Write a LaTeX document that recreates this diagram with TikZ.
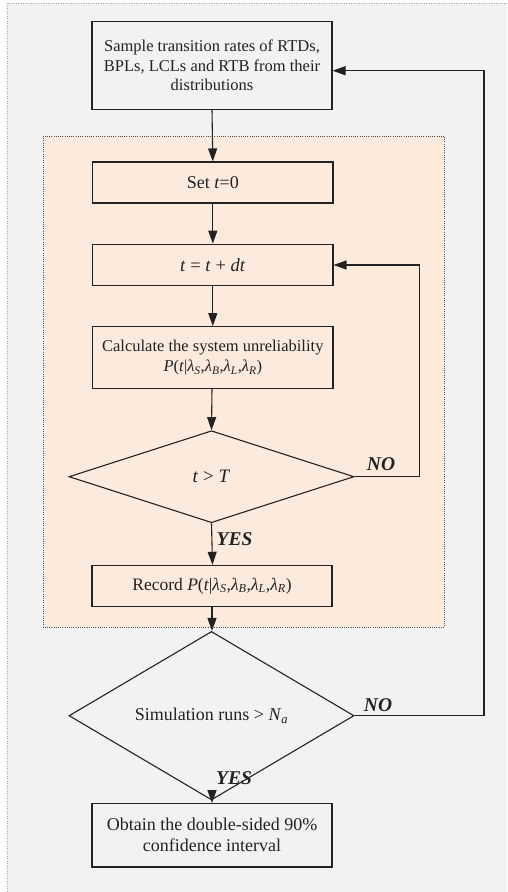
\documentclass[tikz,border=0pt]{standalone}
\usepackage{fontspec}
\setmainfont{Liberation Serif}
\usetikzlibrary{shapes.geometric,arrows.meta,calc}
\definecolor{outerbg}{RGB}{242,242,242}
\definecolor{innerbg}{RGB}{252,234,221}
\definecolor{ink}{RGB}{34,34,34}
\newcommand{\lam}[1]{\textit{λ}\textsubscript{\textit{#1}}}
\newcommand{\Pexpr}{\textit{P}(\textit{t}|\lam{S},\lam{B},\lam{L},\lam{R})}
\begin{document}
\begin{tikzpicture}[x=1pt,y=-1pt,
  box/.style={draw=ink,line width=1.1pt,rectangle,align=center,inner sep=2pt,text=ink},
  dia/.style={draw=ink,line width=1.1pt,diamond,inner sep=0pt,text=ink},
  arr/.style={draw=ink,line width=1.1pt,-{Triangle[length=13pt,width=9pt]}},
  lbl/.style={text=ink,font=\fontsize{19.5}{22}\selectfont\bfseries\itshape,inner sep=0pt}]
\useasboundingbox (0,0) rectangle (507,892);
% backgrounds
\fill[outerbg] (7,3) rectangle (507,892);
\draw[gray!70,line width=0.6pt,dash pattern=on 1pt off 1.5pt] (507,3) -- (7,3) -- (7,892);
\fill[innerbg] (43.3,136) rectangle (444.3,627.3);
\draw[ink!80,line width=0.7pt,dash pattern=on 1pt off 1.2pt] (43.3,136) rectangle (444.3,627.3);
% nodes
\node[box,minimum width=240pt,minimum height=88pt,
  font=\fontsize{16.5}{19.5}\selectfont] (top) at (212,65.3)
  {Sample transition rates of RTDs,\\BPLs, LCLs and RTB from their\\distributions};
\node[box,minimum width=240.3pt,minimum height=41pt,font=\fontsize{18}{21}\selectfont] (set) at (212.8,182.5)
  {Set \textit{t}=0};
\node[box,minimum width=240.3pt,minimum height=41.7pt,font=\fontsize{18.5}{21}\selectfont] (dt) at (212.8,265)
  {\textit{t} = \textit{t} + \textit{dt}};
\node[box,minimum width=240.3pt,minimum height=61.7pt,font=\fontsize{16.5}{20.5}\selectfont] (calc) at (212.8,357.5)
  {Calculate the system unreliability\\ \Pexpr};
\node[dia,minimum width=285pt,minimum height=92pt,font=\fontsize{19}{21}\selectfont] (d1) at (211.5,476.7)
  {\textit{t} > \textit{T}};
\node[box,minimum width=240pt,minimum height=41.3pt,font=\fontsize{17.5}{21}\selectfont] (rec) at (212,586)
  {Record \Pexpr};
\node[dia,minimum width=285pt,minimum height=92.4pt,font=\fontsize{18}{21}\selectfont] (d2) at (211.5,715.7)
  {Simulation runs > \textit{N}\textsubscript{\textit{a}}};
\node[box,minimum width=240pt,minimum height=63.3pt,font=\fontsize{18}{21}\selectfont] (fin) at (212,835.3)
  {Obtain the double-sided 90\%\\confidence interval};
% labels
\node[lbl] (no1) at (381,464) {NO};
\node[lbl] (yes1) at (234.5,539.5) {YES};
\node[lbl] (no2) at (378,705) {NO};
\node[lbl] (yes2) at (234,778.5) {YES};
% connectors
\coordinate (c1) at (419.3,265);
\coordinate (c2) at (484,70.7);
\draw[arr] (top.south) -- (set.north);
\draw[arr] (set.south) -- (dt.north);
\draw[arr] (dt.south) -- (calc.north);
\draw[arr] ($(calc.south)+(-0.8,0)$) -- (d1.north);
\draw[arr] (d1.south) -- ($(rec.north)+(0.5,0)$);
\draw[arr] (rec.south) -- (d2.north -| rec.south);
\draw[arr] (d2.south -| fin.north) -- (fin.north);
\draw[arr] (d1.east) -| (c1) -- (dt.east);
\draw[arr] (d2.east) -| (c2) -- (c2 -| top.east);
\end{tikzpicture}
\end{document}
